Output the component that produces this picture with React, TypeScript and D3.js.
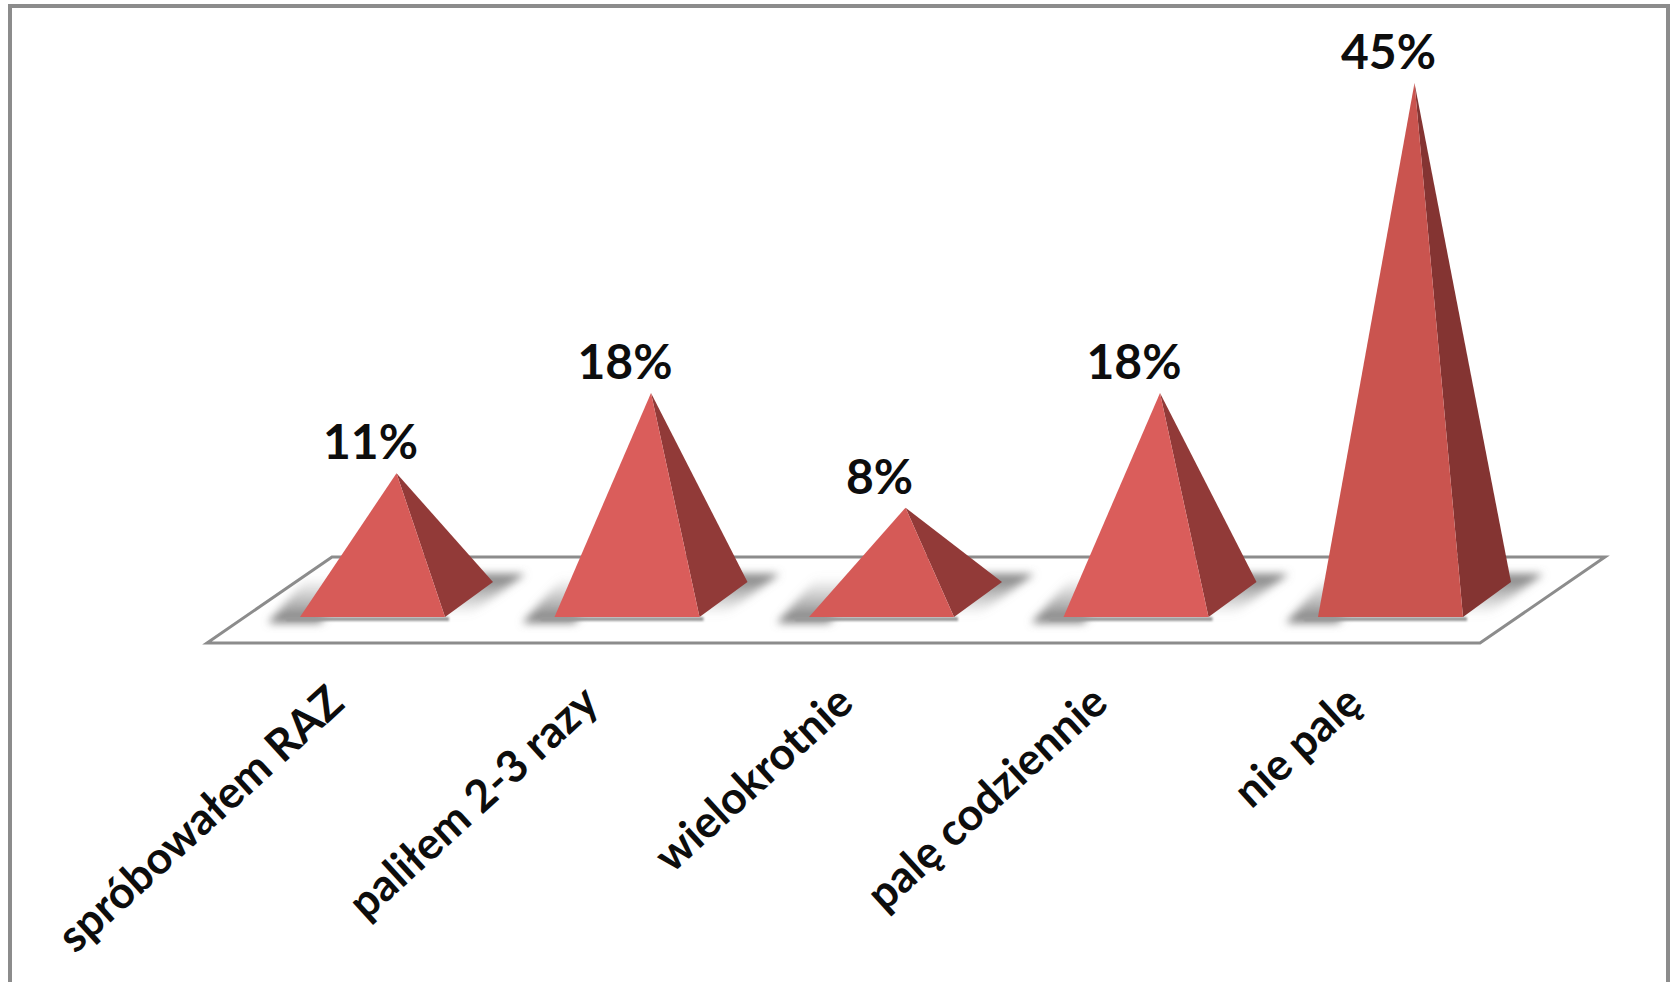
import React from "react";
import * as d3 from "d3";

// Share of respondents per answer about smoking
const categories = ["spróbowałem RAZ", "paliłem 2-3 razy", "wielokrotnie", "palę codziennie", "nie palę"];
const shares = [11, 18, 8, 18, 45];

const W = 1671;
const H = 982;
const FONT = "Lato, 'Open Sans', sans-serif";

// Projection of the 3D box: the depth axis runs up and to the right
const DEPTH_X = 48;
const DEPTH_Y = 35;
const HALF_BASE = 72.5;
const FRONT_Y = 617;

const x = d3.scalePoint<string>().domain(categories).range([396.5, 1414.5]);
const y = d3.scaleLinear().domain([0, 45]).range([FRONT_Y - DEPTH_Y / 2, 83]);
const frontTone = d3.scaleLinear<string>().domain([8, 18, 45]).range(["#d55a57", "#da5d5b", "#ca544f"]);
const sideTone = d3.scaleLinear<string>().domain([8, 18, 45]).range(["#923a38", "#913a38", "#843432"]);

const poly = (pts: [number, number][]) => {
  const p = d3.path();
  pts.forEach(([a, b], i) => (i ? p.lineTo(a, b) : p.moveTo(a, b)));
  p.closePath();
  return p.toString();
};

export default function App() {
  const floor: [number, number][] = [
    [207, 643],
    [1480, 643],
    [1605, 557],
    [332, 557],
  ];
  return (
    <svg
      width={W}
      height={H}
      viewBox={`0 0 ${W} ${H}`}
      style={{ position: "absolute", left: 0, top: 0, background: "#fff" }}
    >
      <defs>
        <filter id="soft" x="-40%" y="-40%" width="180%" height="180%">
          <feGaussianBlur stdDeviation="4" />
        </filter>
        <filter id="edge" x="-5%" y="-100%" width="110%" height="300%">
          <feGaussianBlur stdDeviation="1" />
        </filter>
        <linearGradient id="fadeUp" x1="0" y1="1" x2="0" y2="0">
          <stop offset="0" stopColor="#767676" />
          <stop offset="1" stopColor="#8f8f8f" stopOpacity="0" />
        </linearGradient>
        <linearGradient id="fadeDown" x1="0" y1="0" x2="0" y2="1">
          <stop offset="0" stopColor="#767676" />
          <stop offset="1" stopColor="#8f8f8f" stopOpacity="0" />
        </linearGradient>
      </defs>

      <rect x={10} y={6} width={1658} height={990} fill="#fff" stroke="#8c8c8c" strokeWidth={4} />

      <path d={poly(floor)} fill="#fff" stroke="#8c8c8c" strokeWidth={3} strokeLinejoin="miter" />

      {categories.map((c) => {
        const cx = x(c)!;
        const left = cx - DEPTH_X / 2 - HALF_BASE;
        const right = left + 2 * HALF_BASE;
        return (
          <g key={c}>
            {/* soft cast shadow on the floor */}
            <path
              d={poly([
                [left - 32, FRONT_Y + 6],
                [left + 20, FRONT_Y + 6],
                [left + 56, FRONT_Y - 40],
                [left + 8, FRONT_Y - 40],
              ])}
              fill="url(#fadeUp)"
              filter="url(#soft)"
            />
            <path
              d={poly([
                [right + DEPTH_X - 20, FRONT_Y - 43],
                [right + DEPTH_X + 32, FRONT_Y - 43],
                [right + 24, FRONT_Y - 2],
                [right - 10, FRONT_Y - 2],
              ])}
              fill="url(#fadeDown)"
              filter="url(#soft)"
            />
            <rect
              x={left - 14}
              y={FRONT_Y}
              width={2 * HALF_BASE + 18}
              height={4}
              fill="#9a9a9a"
              filter="url(#edge)"
            />
          </g>
        );
      })}

      {categories.map((c, i) => {
        const cx = x(c)!;
        const apex: [number, number] = [cx, y(shares[i])];
        const left = cx - DEPTH_X / 2 - HALF_BASE;
        const right = left + 2 * HALF_BASE;
        return (
          <g key={c}>
            <path
              d={poly([apex, [right, FRONT_Y], [right + DEPTH_X, FRONT_Y - DEPTH_Y]])}
              fill={sideTone(shares[i])}
            />
            <path d={poly([apex, [left, FRONT_Y], [right, FRONT_Y]])} fill={frontTone(shares[i])} />
            <text
              x={cx - 26}
              y={apex[1] - 14}
              textAnchor="middle"
              fontFamily={FONT}
              fontWeight={700}
              fontSize={48}
              fill="#0d0d0d"
            >
              {d3.format("d")(shares[i])}%
            </text>
          </g>
        );
      })}

      {categories.map((c) => (
        <text
          key={c}
          transform={`translate(${x(c)! - 50},${706}) rotate(-42.5)`}
          textAnchor="end"
          fontFamily={FONT}
          fontWeight={700}
          fontSize={44.5}
          fill="#0d0d0d"
        >
          {c}
        </text>
      ))}
    </svg>
  );
}
